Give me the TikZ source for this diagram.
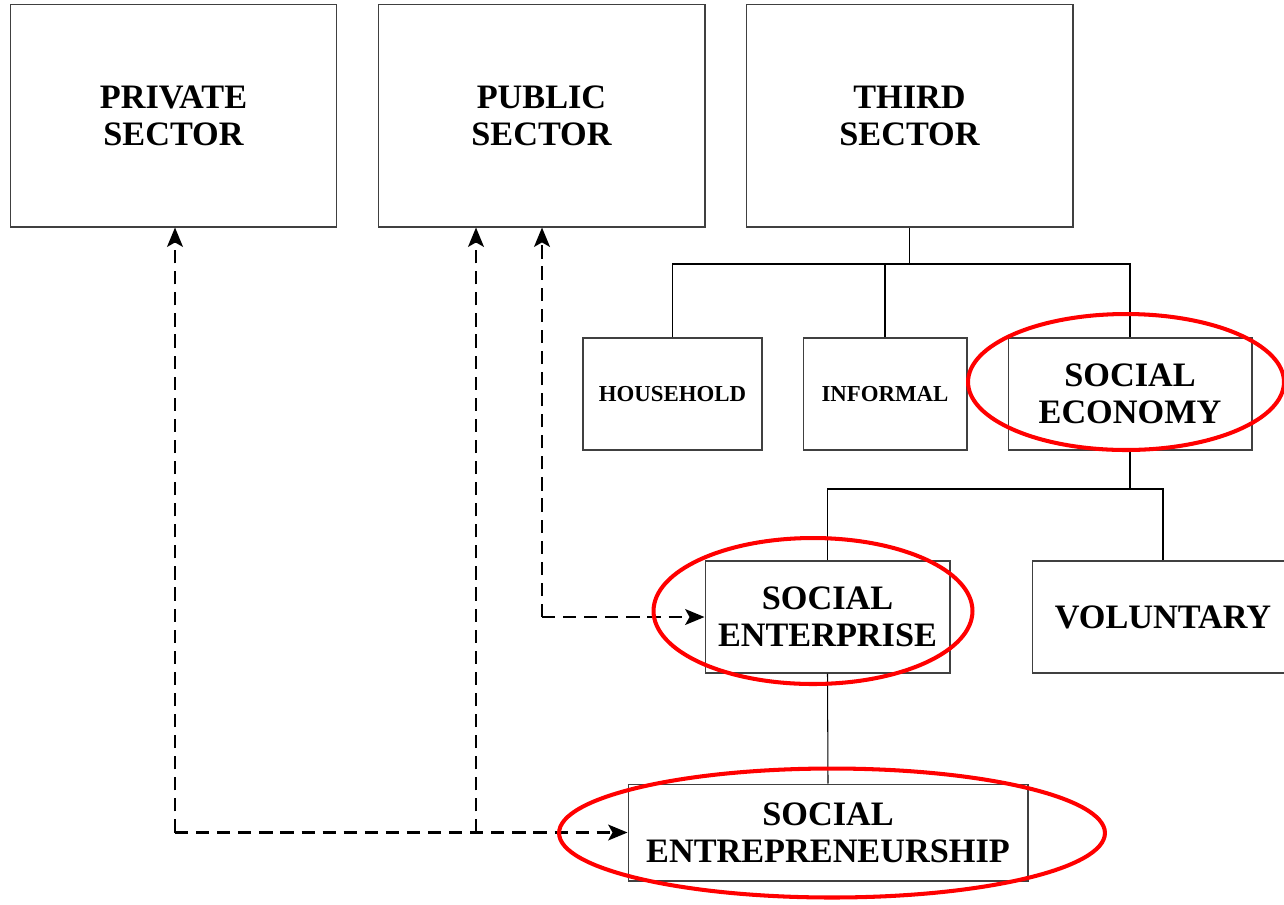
\documentclass[tikz,border=0pt]{standalone}
\usepackage{fontspec}
\setmainfont{Liberation Serif}
\usetikzlibrary{arrows.meta}

\begin{document}
\begin{tikzpicture}[x=0.02cm,y=-0.02cm,
  box/.style={draw=black!75, line width=0.6pt, inner sep=0pt, align=center,
              font=\bfseries\fontsize{19.5}{21}\selectfont},
  smallbox/.style={box, font=\bfseries\fontsize{13}{15}\selectfont},
  tree/.style={draw=black, line width=0.6pt},
  dasharrow/.style={draw=black, line width=1.3pt, dash pattern=on 7.5pt off 4.5pt,
                    -{Stealth[length=11pt,width=9pt,inset=2.5pt]}},
  ring/.style={draw=red, line width=2.3pt}]
  \useasboundingbox (0,0) rectangle (1284,904);

  % the three sectors
  \node[box, minimum width=6.54cm, minimum height=4.46cm] (priv)  at (173.5,115.5) {PRIVATE\\SECTOR};
  \node[box, minimum width=6.54cm, minimum height=4.46cm] (pub)   at (541.5,115.5) {PUBLIC\\SECTOR};
  \node[box, minimum width=6.54cm, minimum height=4.46cm] (third) at (909.5,115.5) {THIRD\\SECTOR};

  % parts of the third sector
  \node[smallbox, minimum width=3.58cm, minimum height=2.24cm] (house) at (672.5,394) {HOUSEHOLD};
  \node[smallbox, minimum width=3.28cm, minimum height=2.24cm] (inf)   at (885,394)   {INFORMAL};
  \node[box, minimum width=4.88cm, minimum height=2.24cm]      (socec) at (1130,394)  {SOCIAL\\ECONOMY};

  % parts of the social economy
  \node[box, minimum width=4.9cm, minimum height=2.24cm]  (socent) at (827.5,617) {SOCIAL\\ENTERPRISE};
  \node[box, minimum width=5.24cm, minimum height=2.24cm] (vol)    at (1163,617)  {VOLUNTARY};

  \node[box, minimum width=8cm, minimum height=1.94cm] (socentr) at (828,832.5) {SOCIAL\\ENTREPRENEURSHIP};

  % tree connectors
  \coordinate (tbus) at (909.5,264);
  \draw[tree] (third.south) -- (tbus);
  \draw[tree] (house.north) |- (tbus);
  \draw[tree] (inf.north) |- (tbus);
  \draw[tree] (socec.north) |- (tbus);

  \coordinate (ebus) at (1130,489);
  \draw[tree] (socec.south) -- (ebus);
  \draw[tree] (socent.north) |- (ebus);
  \draw[tree] (vol.north) |- (ebus);

  \draw[tree] (socent.south) -- (socentr.north);

  % dashed links
  \coordinate (jpriv) at (175,832.5);
  \coordinate (jpub)  at (476,832.5);
  \coordinate (jent)  at (542,617);
  \draw[dasharrow] (jpriv) -- (jpriv |- priv.south);
  \draw[dasharrow] (jpub) -- (jpub |- pub.south);
  \draw[dasharrow] (jent) -- (jent |- pub.south);
  \draw[dasharrow] (jpriv) -- (socentr.west);
  \draw[dasharrow] (jent) -- (socent.west);

  % highlight rings
  \draw[ring] (1126,382) ellipse [x radius=3.16cm, y radius=1.36cm];
  \draw[ring] (813,611) ellipse [x radius=3.19cm, y radius=1.46cm];
  \draw[ring] (832,833) ellipse [x radius=5.46cm, y radius=1.29cm];
\end{tikzpicture}
\end{document}
